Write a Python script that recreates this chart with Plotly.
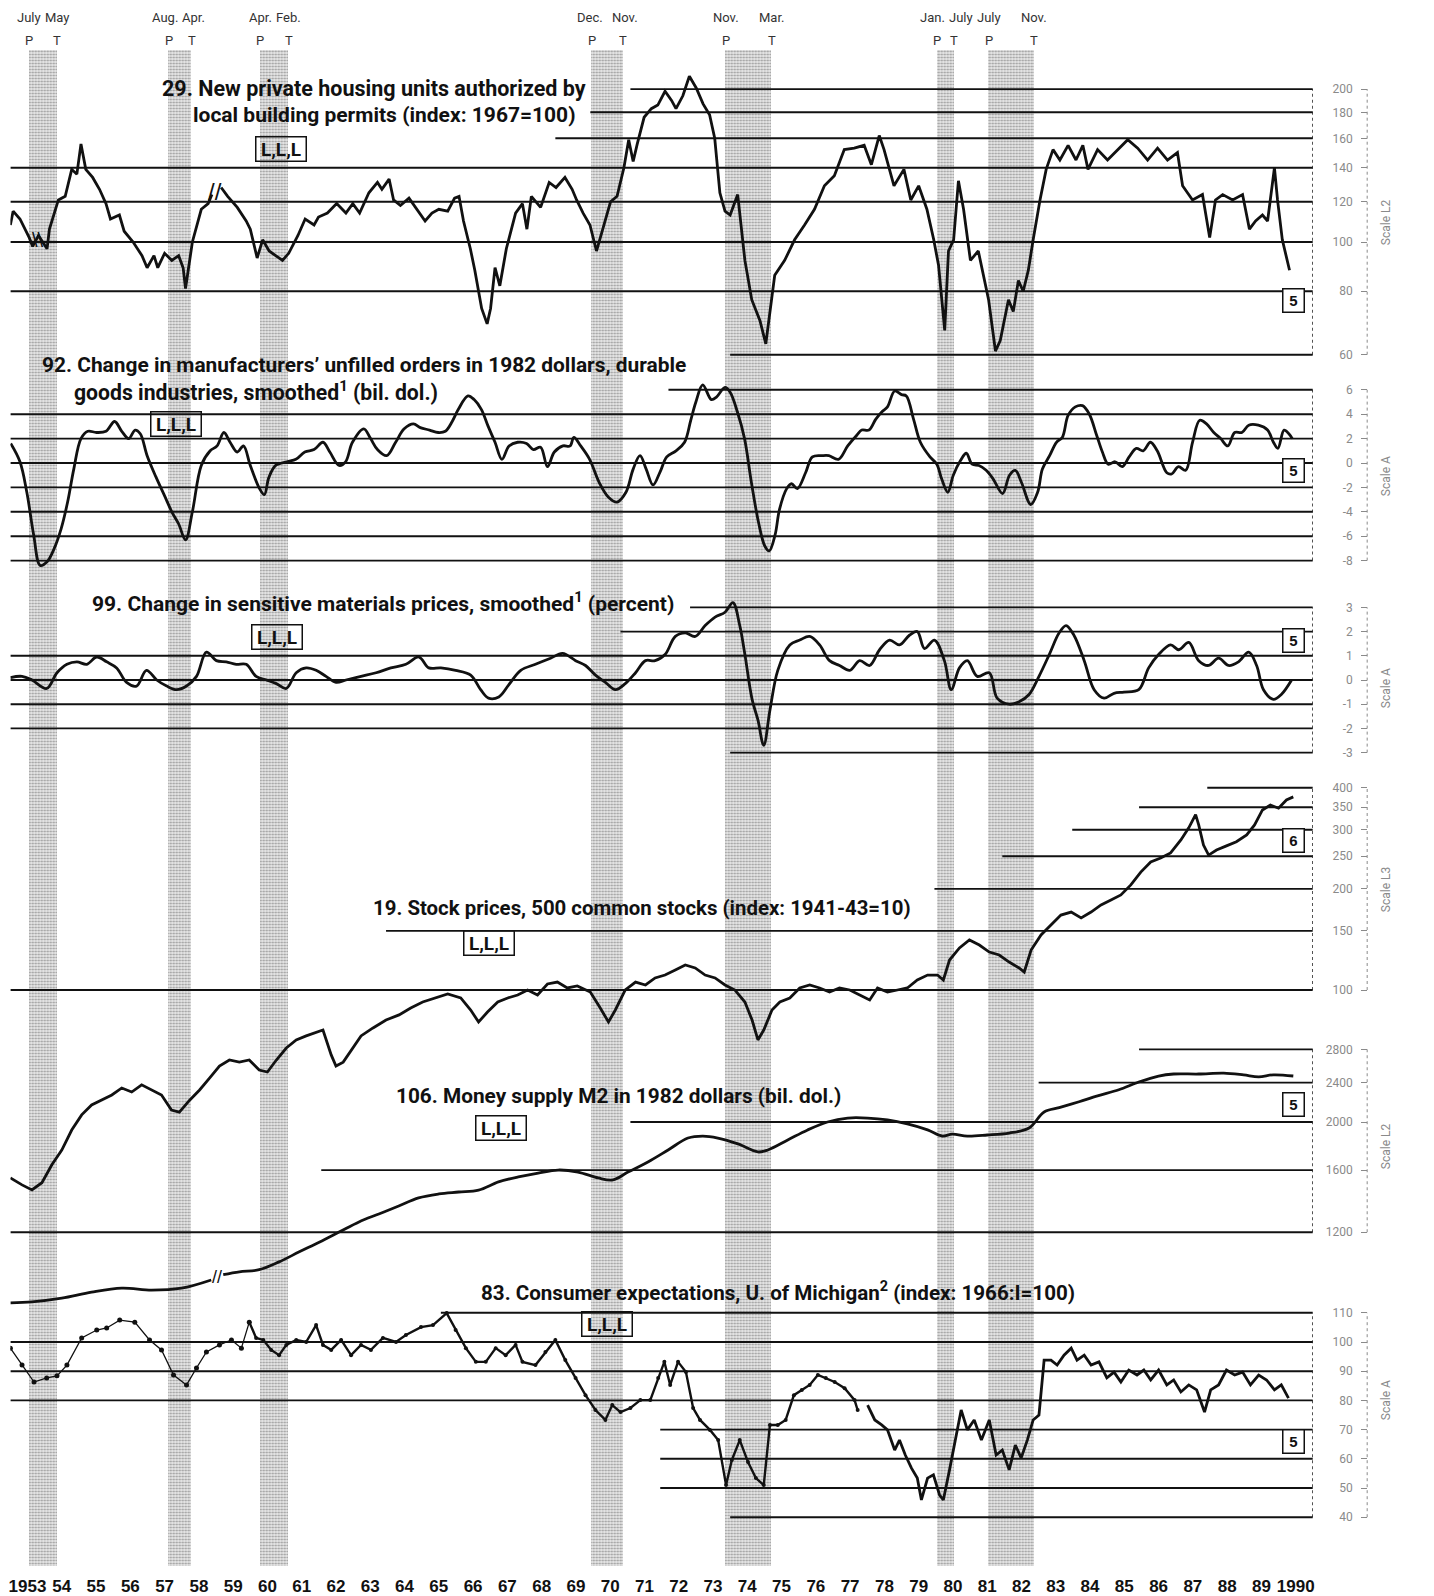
import math
import plotly.graph_objects as go

W, H = 1434, 1596


def px(x):
    return x / W


def py(y):
    return 1 - y / H


COND = "Roboto, Liberation Sans, sans-serif"
SANS = "Liberation Sans, Arial, sans-serif"
INK = "#111111"
GRAY = "#8a8a8a"

# ---------------- recession dates ----------------
rec_peak = [1953.54, 1957.62, 1960.29, 1969.96, 1973.87, 1980.04, 1981.54]
rec_trough = [1954.37, 1958.29, 1961.12, 1970.87, 1975.21, 1980.54, 1982.87]
peak_month = ["July", "Aug.", "Apr.", "Dec.", "Nov.", "Jan.", "July"]
trough_month = ["May", "Apr.", "Feb.", "Nov.", "Mar.", "July", "Nov."]

# ---------------- 29. housing permits (index 1967=100) ----------------
h_years = [1953.00, 1953.08, 1953.28, 1953.55, 1953.65, 1953.82, 1954.07, 1954.14, 1954.40, 1954.60,
           1954.79, 1954.94, 1955.06, 1955.20, 1955.40, 1955.60, 1955.79, 1955.92, 1956.18, 1956.32,
           1956.58, 1956.84, 1956.99, 1957.19, 1957.30, 1957.50, 1957.71, 1957.91, 1958.04, 1958.11,
           1958.31, 1958.57, 1958.77, 1958.88,
           None,
           1959.15, 1959.34, 1959.62, 1959.88, 1960.00, 1960.20, 1960.36, 1960.55, 1960.74, 1960.94,
           1961.12, 1961.39, 1961.60, 1961.86, 1961.99, 1962.25, 1962.52, 1962.79, 1962.99, 1963.19,
           1963.46, 1963.71, 1963.84, 1964.05, 1964.18, 1964.38, 1964.63, 1964.90, 1965.10, 1965.30,
           1965.50, 1965.76, 1965.96, 1966.09, 1966.22, 1966.42, 1966.55, 1966.75, 1966.91, 1967.01,
           1967.14, 1967.28, 1967.47, 1967.74, 1967.94, 1968.07, 1968.20, 1968.47, 1968.72, 1968.92,
           1969.18, 1969.39, 1969.52, 1969.71, 1969.91, 1970.10, 1970.31, 1970.51, 1970.70, 1970.90,
           1971.04, 1971.17, 1971.29, 1971.49, 1971.70, 1971.89, 1972.10, 1972.29, 1972.42, 1972.62,
           1972.81, 1973.01, 1973.21,
           1973.40, 1973.55, 1973.70, 1973.85, 1974.00, 1974.22, 1974.43, 1974.63, 1974.87, 1975.04,
           1975.16, 1975.30, 1975.59, 1975.88, 1976.17, 1976.46, 1976.75, 1977.04, 1977.33, 1977.62,
           1977.91, 1978.12, 1978.35, 1978.49, 1978.78, 1979.07, 1979.27, 1979.50, 1979.74, 1979.94,
           1980.08, 1980.26, 1980.37, 1980.52, 1980.66, 1980.81, 1981.01, 1981.24, 1981.54, 1981.74,
           1981.88, 1982.12, 1982.26, 1982.41, 1982.55, 1982.70, 1982.84, 1983.04, 1983.22, 1983.42,
           1983.62, 1983.86, 1984.09, 1984.29, 1984.44, 1984.72, 1985.01, 1985.30, 1985.60, 1985.89,
           1986.18, 1986.47, 1986.76, 1987.05, 1987.20, 1987.49, 1987.78, 1987.99, 1988.16, 1988.37,
           1988.66, 1988.95, 1989.15, 1989.33, 1989.53, 1989.68, 1989.88, 1989.97, 1990.11, 1990.32]
h_vals = [108, 115, 111, 102, 98, 103, 97, 106, 121, 123,
          139, 136, 156, 139, 134, 127, 119, 111, 113, 105,
          100, 94, 89, 94, 89, 95, 92, 94, 89, 81,
          100, 116, 119, 124,
          None,
          128, 123, 117, 110, 106, 93, 101, 96, 94, 92,
          95, 103, 111, 108, 112, 114, 119, 114, 119, 114,
          125, 131, 127, 133, 121, 118, 122, 115, 110, 114,
          116, 115, 122, 123, 110, 97, 88, 74, 69, 74,
          89, 82, 97, 114, 119, 106, 123, 117, 131, 128,
          134, 127, 121, 114, 108, 96, 108, 120, 123, 140,
          159, 144, 156, 176, 183, 186, 198, 190, 183, 194,
          212, 201, 187,
          178, 160, 125, 115, 113, 124, 92, 77, 70, 63,
          73, 86, 92, 101, 108, 116, 129, 135, 152, 153,
          155, 142, 162, 152, 129, 139, 121, 129, 116, 101,
          90, 67, 96, 101, 132, 116, 92, 96, 77, 61,
          64, 77, 73, 84, 80, 88, 101, 121, 139, 152,
          145, 155, 145, 155, 139, 152, 145, 152, 159, 153,
          145, 153, 145, 150, 129, 121, 124, 102, 121, 124,
          121, 124, 106, 110, 113, 110, 140, 121, 101, 88]

# ---------------- 92. change in unfilled orders (bil. dol.) ----------------
u_years = [1953.01, 1953.28, 1953.48, 1953.68, 1953.87, 1954.07, 1954.28, 1954.48, 1954.67, 1954.85,
           1955.06, 1955.26, 1955.51, 1955.79, 1956.04, 1956.25, 1956.45, 1956.64, 1956.79, 1956.99,
           1957.24, 1957.50, 1957.71, 1957.91, 1958.11, 1958.31, 1958.57, 1958.83, 1959.03, 1959.23,
           1959.41, 1959.62, 1959.80, 1960.00, 1960.27, 1960.41, 1960.54, 1960.74, 1961.07, 1961.33,
           1961.59, 1961.86, 1962.12, 1962.32, 1962.59, 1962.78, 1962.98, 1963.31, 1963.51, 1963.71,
           1963.98, 1964.24, 1964.49, 1964.76, 1964.96, 1965.23, 1965.48, 1965.69, 1965.89, 1966.07,
           1966.35, 1966.53, 1966.74, 1966.94, 1967.14, 1967.34, 1967.55, 1967.80, 1968.06, 1968.26,
           1968.47, 1968.67, 1968.87, 1969.12, 1969.33, 1969.44, 1969.64, 1969.90, 1970.18, 1970.45,
           1970.70, 1970.96, 1971.17, 1971.37, 1971.55, 1971.75, 1971.96, 1972.15, 1972.42, 1972.67,
           1972.85, 1973.00, 1973.20, 1973.45, 1973.60, 1973.85, 1974.00,
           1974.21, 1974.42, 1974.62, 1974.83, 1975.01, 1975.14, 1975.31, 1975.44, 1975.65, 1975.79,
           1975.96, 1976.20, 1976.40, 1976.68, 1976.88, 1977.16, 1977.43, 1977.70, 1977.84, 1978.05,
           1978.25, 1978.43, 1978.59, 1978.80, 1979.00, 1979.14, 1979.35, 1979.55, 1979.83, 1980.03,
           1980.17, 1980.35, 1980.51, 1980.72, 1980.89, 1981.06, 1981.26, 1981.47, 1981.67, 1981.95,
           1982.15, 1982.32, 1982.50, 1982.77, 1982.97, 1983.11, 1983.32, 1983.52, 1983.69, 1983.86,
           1984.07, 1984.28, 1984.48, 1984.69, 1984.86, 1985.03, 1985.23, 1985.44, 1985.64, 1985.85,
           1986.05, 1986.26, 1986.46, 1986.74, 1986.88, 1987.08, 1987.29, 1987.49, 1987.70, 1987.90,
           1988.11, 1988.31, 1988.52, 1988.72, 1988.93, 1989.13, 1989.41, 1989.68, 1989.85, 1989.98,
           1990.16, 1990.30, 1990.40]
u_vals = [1.6, 0.1, -2.4, -5.9, -8.4, -8.1, -7.0, -5.4, -3.2, -0.5,
          2.0, 2.6, 2.5, 2.6, 3.4, 2.6, 2.0, 2.7, 2.4, 0.6,
          -1.1, -2.7, -4.0, -5.0, -6.3, -4.0, -0.2, 1.0, 1.4, 2.5,
          1.7, 0.9, 1.4, -0.2, -2.1, -2.6, -1.2, -0.2, 0.1, 0.3,
          0.9, 1.1, 1.7, 0.9, -0.2, 0.1, 1.7, 2.8, 2.0, 1.1,
          0.6, 1.7, 2.8, 3.2, 2.9, 2.7, 2.5, 2.6, 3.4, 4.4,
          5.5, 5.2, 4.4, 3.0, 1.7, 0.3, 1.4, 1.7, 1.6, 1.1,
          1.3, -0.3, 0.9, 1.4, 1.4, 2.1, 1.4, 0.3, -1.6, -2.8,
          -3.2, -2.4, -0.5, 0.6, -0.5, -1.8, -0.7, 0.5, 1.0, 1.7,
          3.5, 5.0, 6.4, 5.2, 5.4, 6.2, 5.8,
          4.2, 2.0, -1.6, -4.9, -6.8, -7.2, -5.9, -3.8, -2.1, -1.7,
          -2.1, -0.8, 0.5, 0.6, 0.6, 0.3, 1.4, 2.3, 2.7, 2.7,
          3.6, 4.2, 4.6, 5.9, 5.6, 5.5, 3.6, 1.7, 0.5, -0.1,
          -1.3, -2.4, -1.0, 0.2, 0.8, -0.1, -0.2, -0.6, -1.3, -2.5,
          -1.0, -0.6, -1.6, -3.4, -2.4, -0.5, 0.6, 1.7, 2.1, 3.9,
          4.6, 4.7, 4.0, 2.3, 0.9, -0.1, 0.1, -0.3, 0.5, 1.2,
          1.0, 1.7, 1.0, -0.8, -0.9, -0.3, -0.6, 1.7, 3.5, 3.2,
          2.5, 2.0, 1.4, 2.5, 2.5, 3.1, 3.1, 2.7, 1.7, 1.2,
          2.7, 2.4, 2.0]

# ---------------- 99. change in sensitive materials prices (percent) ----------------
s_years = [1953.00, 1953.34, 1953.63, 1954.06, 1954.36, 1954.65, 1954.94, 1955.23, 1955.52, 1955.81,
           1956.10, 1956.39, 1956.68, 1956.97, 1957.27, 1957.56, 1957.85, 1958.14, 1958.43, 1958.72,
           1959.01, 1959.30, 1959.59, 1959.88, 1960.17, 1960.47, 1960.76, 1961.05, 1961.34, 1961.63,
           1961.92, 1962.21, 1962.50, 1962.79, 1963.23, 1963.67, 1964.10, 1964.54, 1964.92, 1965.21,
           1965.56, 1965.99, 1966.43, 1966.72, 1966.95, 1967.25, 1967.54, 1967.89, 1968.32, 1968.76,
           1969.11, 1969.49, 1969.78, 1970.07, 1970.36, 1970.65, 1970.94, 1971.24, 1971.53, 1971.81,
           1972.10, 1972.40, 1972.69, 1972.98, 1973.27, 1973.56, 1973.85, 1974.08, 1974.28, 1974.43,
           1974.64, 1974.81, 1974.98, 1975.16, 1975.39, 1975.74, 1976.03, 1976.32, 1976.61, 1976.90,
           1977.19, 1977.49, 1977.78, 1978.07, 1978.36, 1978.65, 1978.94, 1979.23, 1979.46, 1979.67,
           1979.96, 1980.25, 1980.45, 1980.69, 1980.92, 1981.21, 1981.56, 1981.79, 1982.14, 1982.43,
           1982.72, 1983.01, 1983.31, 1983.60, 1983.80, 1984.03, 1984.33, 1984.62, 1984.91, 1985.20,
           1985.49, 1985.92, 1986.21, 1986.50, 1986.85, 1987.09, 1987.38, 1987.67, 1987.96, 1988.25,
           1988.54, 1988.83, 1989.13, 1989.36, 1989.56, 1989.85, 1990.08, 1990.38]
s_vals = [0.1, 0.15, 0, -0.35, 0.3, 0.65, 0.75, 0.65, 0.95, 0.75,
          0.5, -0.1, -0.25, 0.4, 0, -0.25, -0.4, -0.25, 0.15, 1.15,
          0.8, 0.75, 0.65, 0.65, 0.15, 0, -0.15, -0.35, 0.3, 0.5,
          0.4, 0.15, -0.1, 0, 0.15, 0.3, 0.5, 0.65, 0.95, 0.5,
          0.5, 0.4, 0.2, -0.4, -0.75, -0.7, -0.2, 0.4, 0.65, 0.9,
          1.1, 0.8, 0.6, 0.2, -0.1, -0.4, -0.15, 0.3, 0.8, 0.8,
          1.05, 1.8, 1.95, 1.8, 2.25, 2.6, 2.8, 3.2, 2.25, 1.05,
          -0.8, -1.65, -2.7, -1.25, 0.4, 1.45, 1.65, 1.8, 1.45, 0.8,
          0.6, 0.4, 0.8, 0.6, 1.25, 1.65, 1.45, 1.85, 2.0, 1.3,
          1.65, 0.8, -0.4, 0.5, 0.8, 0.15, 0.3, -0.75, -1.0, -0.9,
          -0.6, 0.15, 1.05, 1.95, 2.25, 1.85, 0.8, -0.4, -0.75, -0.55,
          -0.5, -0.4, 0.5, 1.05, 1.45, 1.25, 1.55, 0.8, 0.6, 0.9,
          0.6, 0.75, 1.15, 0.6, -0.4, -0.8, -0.6, 0]

# ---------------- 19. stock prices, 500 common stocks (1941-43=10) ----------------
st_years = [1953.00, 1953.34, 1953.63, 1953.92, 1954.21, 1954.50, 1954.79, 1955.08, 1955.37, 1955.67,
            1955.96, 1956.25, 1956.54, 1956.83, 1957.12, 1957.41, 1957.70, 1957.93, 1958.23, 1958.52,
            1958.81, 1959.10, 1959.39, 1959.68, 1959.97, 1960.26, 1960.50, 1960.76, 1961.05, 1961.34,
            1961.63, 1961.92, 1962.12, 1962.36, 1962.50, 1962.71, 1962.94, 1963.23, 1963.58, 1963.96,
            1964.34, 1964.68, 1965.03, 1965.41, 1965.76, 1966.14, 1966.43, 1966.66, 1966.92, 1967.22,
            1967.51, 1967.80, 1968.09, 1968.38, 1968.67, 1968.96, 1969.25, 1969.54, 1969.92, 1970.21,
            1970.45, 1970.65, 1970.94, 1971.24, 1971.53, 1971.81, 1972.10, 1972.40, 1972.69, 1972.98,
            1973.27, 1973.56, 1973.85, 1974.14, 1974.43, 1974.64, 1974.81, 1974.98, 1975.22, 1975.45,
            1975.74, 1976.03, 1976.32, 1976.61, 1976.90, 1977.19, 1977.49, 1977.78, 1978.07, 1978.30,
            1978.59, 1978.88, 1979.17, 1979.46, 1979.76, 1980.05, 1980.22, 1980.40, 1980.69, 1980.98,
            1981.27, 1981.56, 1981.85, 1982.14, 1982.43, 1982.58, 1982.78, 1983.07, 1983.36, 1983.65,
            1983.95, 1984.24, 1984.53, 1984.82, 1985.11, 1985.40, 1985.69, 1985.98, 1986.27, 1986.56,
            1986.85, 1987.15, 1987.38, 1987.58, 1987.67, 1987.81, 1987.96, 1988.19, 1988.48, 1988.77,
            1989.07, 1989.30, 1989.53, 1989.76, 1990.00, 1990.23, 1990.43]
st_vals = [27.6, 26.3, 25.4, 26.7, 30.2, 33.4, 38.3, 42.5, 45.5, 47.0,
           48.7, 51.1, 49.7, 52.2, 50.4, 48.7, 43.9, 43.3, 47.0, 50.4,
           54.7, 59.4, 61.9, 61.0, 61.9, 57.8, 57.0, 61.9, 67.2, 71.0,
           73.0, 75.0, 76.0, 64.1, 59.4, 61.0, 66.2, 73.0, 77.1, 81.4,
           84.3, 88.4, 92.1, 94.7, 97.3, 94.7, 87.2, 80.3, 86.0, 92.1,
           94.7, 96.6, 100, 96.6, 104.2, 105.6, 101.4, 102.8, 98.6, 88.4,
           80.3, 87.2, 100, 105.6, 103.5, 108.6, 110.8, 114.7, 118.7, 116.3,
           110.8, 108.6, 103.5, 100, 92.1, 81.4, 71.0, 76.0, 87.2, 92.1,
           94.7, 101.4, 103.5, 101.4, 98.6, 101.4, 100, 96.6, 93.4, 101.4,
           98.6, 100, 101.4, 107.1, 110.8, 110.8, 107.1, 122.8, 133.4, 140.9,
           136.1, 129.7, 127.1, 121.1, 116.3, 113.1, 131.5, 145.8, 156.1, 167.1,
           170.6, 163.8, 170.6, 179.1, 185.3, 191.8, 205.5, 224.3, 240.4, 247.1,
           255.9, 279.6, 303.8, 332.5, 310.0, 270.0, 252.1, 260.9, 268.5, 276.2,
           289.6, 310.0, 343.4, 355.4, 347.6, 367.7, 375.6]

# ---------------- 106. money supply M2 in 1982 dollars (bil. dol.) ----------------
m_years = [1953.00, 1953.63, 1954.50, 1955.37, 1956.25, 1957.12, 1957.99, 1958.86,
           None,
           1959.21, 1959.68, 1960.26, 1960.84, 1961.43, 1962.01, 1962.59, 1963.17, 1963.75, 1964.33,
           1964.91, 1965.50, 1966.08, 1966.66, 1967.24, 1967.82, 1968.40, 1968.98, 1969.56, 1970.15,
           1970.58, 1971.02, 1971.60, 1972.19, 1972.77, 1973.20, 1973.64, 1974.23, 1974.81, 1975.10,
           1975.68, 1976.26, 1976.84, 1977.43, 1978.01, 1978.59, 1979.17, 1979.76, 1980.19, 1980.48,
           1980.92, 1981.50, 1982.14, 1982.72, 1983.16, 1983.60, 1984.18, 1984.72, 1985.34, 1985.92,
           1986.50, 1986.94, 1987.67, 1988.40, 1988.98, 1989.42, 1989.85, 1990.43]
m_vals = [865, 869, 884, 909, 926, 918, 926, 962,
          None,
          986, 999, 1009, 1046, 1096, 1146, 1201, 1259, 1306, 1355,
          1407, 1433, 1446, 1459, 1515, 1551, 1579, 1601, 1586, 1543,
          1529, 1586, 1662, 1757, 1857, 1874, 1857, 1807, 1741, 1757,
          1840, 1928, 2000, 2037, 2037, 2019, 1982, 1928, 1874, 1891,
          1874, 1883, 1900, 1945, 2095, 2137, 2197, 2258, 2322, 2407,
          2475, 2498, 2498, 2509, 2488, 2466, 2488, 2475]

# ---------------- 83. consumer expectations, U. of Michigan (1966:I=100) ----------------
c1_years = [1953.00, 1953.34, 1953.69, 1954.06, 1954.36, 1954.65, 1955.08, 1955.52, 1955.81, 1956.19,
            1956.63, 1957.06, 1957.41, 1957.76, 1958.14, 1958.43, 1958.72, 1959.10, 1959.45, 1959.74,
            1959.97]
c1_vals = [97.9, 92.1, 86.3, 87.7, 88.4, 92.1, 101.4, 104.1, 104.8, 107.5,
           106.8, 100.7, 97.3, 88.7, 85.3, 91.1, 96.6, 99.0, 100.7, 97.9,
           106.8]
c2_years = [1959.97, 1960.17, 1960.38, 1960.61, 1960.84, 1961.05, 1961.34, 1961.63, 1961.92, 1962.12,
            1962.36, 1962.65, 1962.94, 1963.23, 1963.52, 1963.87, 1964.25, 1964.54, 1964.98, 1965.33,
            1965.73, 1965.99, 1966.29, 1966.58, 1966.87, 1967.16, 1967.45, 1967.74, 1967.94, 1968.32,
            1968.61, 1968.90, 1969.19, 1969.49, 1969.78, 1970.07, 1970.36, 1970.56, 1970.80, 1971.09,
            1971.38, 1971.67, 1971.90, 1972.08, 1972.25, 1972.48, 1972.71, 1972.92, 1973.12, 1973.41,
            1973.65, 1973.88, 1974.05, 1974.28, 1974.52, 1974.75, 1974.98, 1975.16, 1975.39, 1975.62,
            1975.86, 1976.09, 1976.32, 1976.56, 1976.79, 1977.05, 1977.34, 1977.63, 1977.72]
c2_vals = [106.8, 101.4, 100.7, 97.3, 95.5, 99.0, 100.7, 100.0, 105.8, 99.0,
           97.3, 100.7, 95.5, 99.0, 97.3, 101.4, 100.0, 102.4, 105.1, 105.8,
           109.9, 104.1, 97.9, 93.2, 93.2, 97.9, 95.5, 99.0, 93.2, 92.1,
           96.6, 100.7, 93.8, 87.7, 81.8, 76.7, 73.3, 78.4, 76.0, 77.4,
           80.1, 80.1, 87.7, 93.2, 85.3, 93.2, 89.7, 77.4, 73.3, 69.9,
           66.4, 51.0, 59.6, 66.4, 58.9, 53.4, 51.0, 71.6, 71.6, 73.3,
           81.8, 83.6, 85.3, 88.7, 87.7, 86.3, 84.2, 80.1, 76.7]
c3_years = [1978.01, 1978.22, 1978.42, 1978.59, 1978.80, 1978.94, 1979.11, 1979.29, 1979.46, 1979.58,
            1979.76, 1979.93, 1980.11, 1980.22, 1980.40, 1980.57, 1980.74, 1980.92, 1981.12, 1981.33,
            1981.56, 1981.76, 1981.94, 1982.14, 1982.32, 1982.49, 1982.67, 1982.84, 1983.01, 1983.16,
            1983.36, 1983.54, 1983.74, 1983.95, 1984.12, 1984.33, 1984.53, 1984.76, 1984.99, 1985.20,
            1985.40, 1985.63, 1985.87, 1986.07, 1986.27, 1986.50, 1986.74, 1986.94, 1987.15, 1987.38,
            1987.61, 1987.84, 1988.02, 1988.25, 1988.48, 1988.72, 1988.95, 1989.18, 1989.42, 1989.65,
            1989.88, 1990.08, 1990.29]
c3_vals = [78.4, 73.3, 71.6, 69.9, 63.0, 66.4, 61.3, 56.8, 53.4, 45.9,
           53.4, 54.5, 47.6, 45.9, 56.2, 66.4, 76.7, 69.9, 73.3, 66.4,
           73.3, 61.3, 63.0, 56.2, 64.7, 60.3, 66.4, 73.3, 75.0, 93.8,
           93.8, 92.1, 95.5, 97.9, 93.8, 95.5, 92.1, 93.2, 87.7, 89.7,
           86.3, 90.4, 88.7, 90.4, 87.0, 90.4, 85.3, 87.0, 82.9, 85.3,
           83.6, 76.0, 83.6, 85.3, 90.4, 88.7, 89.7, 85.3, 88.7, 87.0,
           83.6, 85.3, 80.8]

# ---------------- scale ticks ----------------
tick_29 = [60, 80, 100, 120, 140, 160, 180, 200]
tick_92 = [-8, -6, -4, -2, 0, 2, 4, 6]
tick_99 = [-3, -2, -1, 0, 1, 2, 3]
tick_19 = [100, 150, 200, 250, 300, 350, 400]
tick_106 = [1200, 1600, 2000, 2400, 2800]
tick_83 = [40, 50, 60, 70, 80, 90, 100, 110]

# grid rules: (value, first year of the rule)
grid_29 = [(200, 1971.09), (180, 1969.92), (160, 1968.90), (140, 1953), (120, 1953), (100, 1953), (80, 1953), (60, 1974.0)]
grid_92 = [(6, 1972.2), (4, 1953), (2, 1953), (0, 1953), (-2, 1953), (-4, 1953), (-6, 1953), (-8, 1953)]
grid_99 = [(3, 1972.83), (2, 1970.8), (1, 1953), (0, 1953), (-1, 1953), (-2, 1953), (-3, 1974.0)]
grid_19 = [(400, 1987.92), (350, 1985.93), (300, 1983.98), (250, 1981.94), (200, 1979.96), (150, 1963.96), (100, 1953)]
grid_106 = [(2800, 1985.93), (2400, 1983.0), (2000, 1971.09), (1600, 1962.07), (1200, 1953)]
grid_83 = [(110, 1965.56), (100, 1953), (90, 1953), (80, 1953), (70, 1971.96), (60, 1971.96), (50, 1971.96), (40, 1974.0)]

year_ticks = [1953.5 + i for i in range(38)]
year_text = ["1953"] + [str(y % 100) for y in range(1954, 1990)] + ["1990"]

for a, b in [(h_years, h_vals), (u_years, u_vals), (s_years, s_vals), (st_years, st_vals),
             (m_years, m_vals), (c1_years, c1_vals), (c2_years, c2_vals), (c3_years, c3_vals)]:
    assert len(a) == len(b), (len(a), len(b))

# ---------------- layout geometry ----------------
X_DOM = (8.4, 1314.5)
X_RANGE = (1953.0, 1991.0)
AXIS_X = 1369

panels = [
    dict(ax="y2", typ="log", v0=100, p0=242, k=508, top=52, bot=372, ticks=tick_29, grid=grid_29,
         scale="Scale L2", scale_y=222),
    dict(ax="y3", typ="linear", v0=0, p0=463, k=12.2, top=372, bot=580, ticks=tick_92, grid=grid_92,
         scale="Scale A", scale_y=476),
    dict(ax="y4", typ="linear", v0=0, p0=680, k=24.2, top=585, bot=770, ticks=tick_99, grid=grid_99,
         scale="Scale A", scale_y=688),
    dict(ax="y5", typ="log", v0=100, p0=990, k=336, top=770, bot=1215, ticks=tick_19, grid=grid_19,
         scale="Scale L3", scale_y=890),
    dict(ax="y6", typ="log", v0=2000, p0=1122, k=497, top=1035, bot=1318, ticks=tick_106, grid=grid_106,
         scale="Scale L2", scale_y=1146),
    dict(ax="y7", typ="linear", v0=100, p0=1342, k=2.92, top=1295, bot=1555, ticks=tick_83, grid=grid_83,
         scale="Scale A", scale_y=1400),
]

fig = go.Figure()

# recession shading: stippled bars on their own full-height axis (drawn first, underneath)
fig.add_trace(go.Bar(
    x=[(p + t) / 2 for p, t in zip(rec_peak, rec_trough)],
    y=[1] * len(rec_peak), base=0,
    width=[t - p for p, t in zip(rec_peak, rec_trough)],
    xaxis="x", yaxis="y",
    marker=dict(color="rgba(214,214,214,0.55)", line=dict(width=0),
                pattern=dict(shape=".", size=3, solidity=0.4, fgcolor="#9a9a9a",
                             bgcolor="rgba(214,214,214,0.55)", fillmode="replace")),
    showlegend=False, hoverinfo="skip"))


def add_line(xs, ys, ax, width=2.8, mode="lines", shape="linear", msize=0):
    fig.add_trace(go.Scatter(
        x=xs, y=ys, xaxis="x", yaxis=ax, mode=mode,
        line=dict(color=INK, width=width, shape=shape),
        marker=dict(color=INK, size=msize),
        showlegend=False, hoverinfo="skip", connectgaps=False))


add_line(h_years, h_vals, "y2")
add_line(u_years, u_vals, "y3", shape="spline")
add_line(s_years, s_vals, "y4", shape="spline")
add_line(st_years, st_vals, "y5")
add_line(m_years, m_vals, "y6", shape="spline")
add_line(c1_years, c1_vals, "y7", width=1.3, mode="lines+markers", msize=5)
add_line(c2_years, c2_vals, "y7", width=2.4, mode="lines+markers", msize=4)
add_line(c3_years, c3_vals, "y7", width=2.8)

shapes = []
annotations = []
layout_axes = {
    "yaxis": dict(domain=[py(1566), py(50)], range=[0, 1], visible=False, fixedrange=True),
}


def note(text, x, y, font, xref="paper", yref="paper", **kw):
    d = dict(text=text, xref=xref, yref=yref, x=x, y=y, showarrow=False, font=font,
             xanchor=kw.pop("xanchor", "center"), yanchor=kw.pop("yanchor", "middle"))
    d.update(kw)
    annotations.append(d)


for pn in panels:
    ax = pn["ax"]
    f0 = math.log10(pn["v0"]) if pn["typ"] == "log" else pn["v0"]
    r0 = f0 - (pn["bot"] - pn["p0"]) / pn["k"]
    r1 = f0 + (pn["p0"] - pn["top"]) / pn["k"]
    key = "yaxis" + ax[1:]
    layout_axes[key] = dict(
        domain=[py(pn["bot"]), py(pn["top"])], range=[r0, r1], type=pn["typ"],
        anchor="free", position=px(AXIS_X), side="left",
        showgrid=False, zeroline=False, showline=False,
        tickvals=pn["ticks"], ticktext=[str(v) for v in pn["ticks"]],
        ticks="outside", ticklen=6, tickwidth=1, tickcolor=GRAY,
        tickfont=dict(family=COND, size=12, color=GRAY), ticklabelstandoff=6,
        fixedrange=True)
    gv = [g[0] for g in pn["grid"]]
    for v, start in pn["grid"]:
        shapes.append(dict(type="line", xref="x", yref=ax, x0=start, x1=X_RANGE[1], y0=v, y1=v,
                           line=dict(color=INK, width=1.9), layer="below"))
    shapes.append(dict(type="line", xref="x", yref=ax, x0=X_RANGE[1], x1=X_RANGE[1],
                       y0=min(gv), y1=max(gv), line=dict(color=INK, width=1.4, dash="dot")))
    shapes.append(dict(type="line", xref="paper", yref=ax, x0=px(AXIS_X), x1=px(AXIS_X),
                       y0=min(pn["ticks"]), y1=max(pn["ticks"]),
                       line=dict(color=GRAY, width=1, dash="dot")))
    note(pn["scale"], px(1388), py(pn["scale_y"]), dict(family=COND, size=12, color=GRAY), textangle=-90)

# recession labels at top
MF = dict(family=COND, size=13, color="#333")
peak_shift = [0, -4, 0, -2, 0, -5, 0]
trough_shift = [0, 2, 0, 2, 0, 7, 0]
for i in range(len(rec_peak)):
    note(peak_month[i], rec_peak[i], py(18), MF, xref="x", xshift=peak_shift[i])
    note(trough_month[i], rec_trough[i], py(18), MF, xref="x", xshift=trough_shift[i])
    note("P", rec_peak[i], py(40), MF, xref="x")
    note("T", rec_trough[i], py(40), MF, xref="x")

# titles (text, left px, centre px, font size)
titles = [
    ("29. New private housing units authorized by", 158, 88, 21.5),
    ("local building permits (index: 1967=100)", 190, 115, 21.0),
    ("92. Change in manufacturers\u2019 unfilled orders in 1982 dollars, durable", 38, 365, 20.9),
    ("goods industries, smoothed<sup>1</sup> (bil. dol.)", 70, 391, 21.2),
    ("99. Change in sensitive materials prices, smoothed<sup>1</sup> (percent)", 88, 602, 21.0),
    ("19. Stock prices, 500 common stocks (index: 1941-43=10)", 370, 908, 20.4),
    ("106. Money supply M2 in 1982 dollars (bil. dol.)", 393, 1096, 20.8),
    ("83. Consumer expectations, U. of Michigan<sup>2</sup> (index: 1966:I=100)", 478, 1291, 20.6),
]
for txt, xl, yc, fs in titles:
    note(txt, px(xl), py(yc), dict(family=COND, size=fs, color=INK, weight="bold"), xanchor="left")

# L,L,L boxes
for xc, yc in [(280, 149), (174, 424), (276, 637), (488, 943), (500, 1128), (607, 1324)]:
    note("L,L,L", px(xc), py(yc), dict(family=COND, size=19, color=INK, weight="bold"),
         bordercolor=INK, borderwidth=1.5, borderpad=1, width=47, height=21)

# series number boxes
for txt, yc in [("5", 300), ("5", 470), ("5", 641), ("6", 840), ("5", 1104), ("5", 1441)]:
    note(txt, px(1295), py(yc), dict(family=SANS, size=15, color=INK, weight="bold"),
         bordercolor=INK, borderwidth=1.5, borderpad=2, bgcolor="white", width=16, height=18)

# series-break marks
note("//", 1958.96, math.log10(126), dict(family=SANS, size=24, color=INK), xref="x", yref="y2")
note("\\\\", 1953.82, math.log10(101), dict(family=SANS, size=20, color=INK), xref="x", yref="y2")
note("//", 1959.04, math.log10(975), dict(family=SANS, size=18, color=INK), xref="x", yref="y6")

fig.update_layout(
    width=W, height=H, autosize=False,
    margin=dict(l=0, r=0, t=0, b=0, pad=0),
    paper_bgcolor="white", plot_bgcolor="rgba(0,0,0,0)",
    showlegend=False, bargap=0,
    xaxis=dict(domain=[px(X_DOM[0]), px(X_DOM[1])], range=list(X_RANGE), anchor="free", position=py(1574),
               showgrid=False, zeroline=False, showline=False, ticks="",
               tickvals=year_ticks, ticktext=year_text, tickangle=0,
               tickfont=dict(family=SANS, size=17, color=INK, weight="bold"), fixedrange=True),
    shapes=shapes,
    annotations=annotations,
    **layout_axes,
)

fig.write_html("out.html", config={"displayModeBar": False},
               post_script="document.body.style.margin='0px';")
